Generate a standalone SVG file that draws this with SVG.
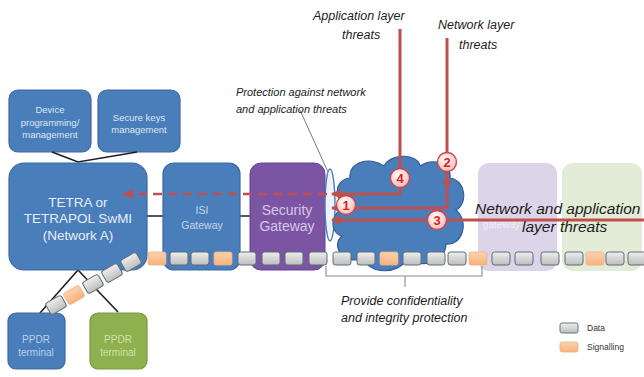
<svg xmlns="http://www.w3.org/2000/svg" width="644" height="377" viewBox="0 0 644 377">
  <defs>
    <linearGradient id="gData" x1="0" y1="0" x2="0" y2="1">
      <stop offset="0" stop-color="#eeeeee"/>
      <stop offset="1" stop-color="#bdbdbd"/>
    </linearGradient>
    <linearGradient id="gSig" x1="0" y1="0" x2="0" y2="1">
      <stop offset="0" stop-color="#fcd2ae"/>
      <stop offset="1" stop-color="#f6b27a"/>
    </linearGradient>
    <radialGradient id="gBadge" cx="0.4" cy="0.35" r="0.7">
      <stop offset="0" stop-color="#ffffff"/>
      <stop offset="1" stop-color="#f4b8b8"/>
    </radialGradient>
    <marker id="arrRed" viewBox="0 0 10 10" refX="9" refY="5" markerWidth="3.2" markerHeight="3.2" orient="auto">
      <path d="M0,0 L10,5 L0,10 Z" fill="#c0504d"/>
    </marker>
    <g id="dataBox"><rect width="18" height="13" rx="2.5" fill="url(#gData)" stroke="#5f6a74" stroke-width="1"/></g>
    <g id="sigBox"><rect width="18" height="13" rx="2" fill="url(#gSig)" stroke="#f0b184" stroke-width="0.8"/></g>
  </defs>
  <style>
    .blue { fill: #4a7ebb; stroke: #3b6aa3; stroke-width: 1.2; }
    .lbl { font-family: "Liberation Sans", Arial, sans-serif; text-anchor: middle; }
    .note { font-family: "Liberation Sans", Arial, sans-serif; font-style: italic; fill: #1c1c1c; }
    .link { stroke: #1e1e1e; stroke-width: 1.6; fill: none; }
    .threat { stroke: #c0504d; stroke-width: 3; fill: none; }
    .badge circle { fill: url(#gBadge); stroke: #d6403d; stroke-width: 1.3; }
    .badge text { font-family: "Liberation Sans", Arial, sans-serif; font-weight: bold; font-size: 13px; fill: #e0201c; text-anchor: middle; }
  </style>

  <rect width="644" height="377" fill="#ffffff"/>

  <!-- faint right-hand boxes -->
  <g id="remote-security-gateway">
    <rect x="478" y="163" width="79" height="108" rx="11" fill="#dcd5ea"/>
    <text class="lbl" x="520" y="228" font-size="10" fill="#f2eef8" text-anchor="end" style="text-anchor:end">gateway</text>
  </g>
  <g id="remote-network">
    <rect x="562" y="163" width="80" height="108" rx="11" fill="#e3ecd6"/>
  </g>

  <!-- management boxes -->
  <g id="device-mgmt">
    <rect class="blue" x="9" y="90" width="82" height="62" rx="9"/>
    <text class="lbl" font-size="9.5" fill="#dce6f2"><tspan x="50" y="113">Device</tspan><tspan x="50" y="126">programming/</tspan><tspan x="50" y="138">management</tspan></text>
  </g>
  <g id="keys-mgmt">
    <rect class="blue" x="98" y="90" width="82" height="62" rx="9"/>
    <text class="lbl" font-size="9.5" fill="#dce6f2"><tspan x="139" y="121">Secure keys</tspan><tspan x="139" y="133">management</tspan></text>
  </g>

  <!-- connectors -->
  <g id="connectors">
    <path class="link" d="M52,152 L78,162 L137,152"/>
    <path class="link" d="M147,216 H163 M240,216 H250"/>
    <path class="link" d="M78,270 L40,313 M78,270 L118,312"/>
    <line x1="300" y1="110" x2="328" y2="172" stroke="#7a7a7a" stroke-width="1"/>
    <path d="M326,266 V276 H482 V266 M405,276 V287" stroke="#8a8a8a" stroke-width="1.1" fill="none"/>
  </g>

  <!-- SwMI -->
  <g id="swmi">
    <rect class="blue" x="9" y="163" width="138" height="107" rx="15"/>
    <text class="lbl" font-size="13.5" fill="#e6edf6"><tspan x="78" y="207">TETRA or</tspan><tspan x="78" y="223">TETRAPOL SwMI</tspan><tspan x="78" y="240">(Network A)</tspan></text>
  </g>

  <g id="isi-gateway">
    <rect class="blue" x="163" y="163" width="77" height="107" rx="11"/>
    <text class="lbl" font-size="10.5" fill="#c6d6ea"><tspan x="202" y="214">ISI</tspan><tspan x="202" y="229">Gateway</tspan></text>
  </g>

  <g id="security-gateway">
    <rect x="250" y="163" width="75" height="107" rx="11" fill="#7b55a3" stroke="#664290" stroke-width="1"/>
    <text class="lbl" font-size="14" fill="#d4c8e4"><tspan x="287" y="215">Security</tspan><tspan x="287" y="231">Gateway</tspan></text>
  </g>

  <!-- protection lens -->
  <g id="protection">
    <ellipse cx="330" cy="205" rx="5" ry="36" fill="#eef2f9" stroke="#4a7ebb" stroke-width="1.4"/>
  </g>

  <!-- network cloud -->
  <g id="cloud">
    <path fill="#4a7ebb" stroke="#2f5f9a" stroke-width="1.2" d="M350,205 C334,204 332,180 350,178 C348,162 370,156 384,166 C392,152 418,154 420,166 C432,158 452,162 450,178 C466,180 468,204 456,210 C470,222 462,246 446,244 C446,262 420,270 408,258 C398,276 368,274 364,258 C344,266 330,246 342,236 C328,232 330,210 350,205 Z"/>
  </g>

  <!-- traffic bar -->
  <g id="traffic">
    <use href="#sigBox" x="148" y="252"/>
    <use href="#dataBox" x="170" y="252"/>
    <use href="#dataBox" x="191" y="252"/>
    <use href="#sigBox" x="214" y="252"/>
    <use href="#dataBox" x="238" y="252"/>
    <use href="#dataBox" x="262" y="252"/>
    <use href="#dataBox" x="285" y="252"/>
    <use href="#dataBox" x="309" y="252"/>
    <use href="#dataBox" x="333" y="252"/>
    <use href="#dataBox" x="357" y="252"/>
    <use href="#sigBox" x="380" y="252"/>
    <use href="#dataBox" x="403" y="252"/>
    <use href="#dataBox" x="427" y="252"/>
    <use href="#dataBox" x="448" y="252"/>
    <use href="#sigBox" x="469" y="252"/>
    <use href="#dataBox" x="492" y="252"/>
    <use href="#dataBox" x="515" y="252"/>
    <use href="#dataBox" x="541" y="252"/>
    <use href="#dataBox" x="565" y="252"/>
    <use href="#sigBox" x="586" y="252"/>
    <use href="#dataBox" x="606" y="252"/>
    <use href="#dataBox" x="628" y="252"/>
  </g>

  <!-- terminals -->
  <g id="ppdr-terminal-a">
    <rect class="blue" x="8" y="313" width="57" height="56" rx="8"/>
    <text class="lbl" font-size="10" fill="#bcd0e8"><tspan x="36" y="343">PPDR</tspan><tspan x="36" y="356">terminal</tspan></text>
  </g>
  <g id="ppdr-terminal-b">
    <rect x="90" y="313" width="57" height="56" rx="8" fill="#8fb04f" stroke="#79993c" stroke-width="1.2"/>
    <text class="lbl" font-size="10" fill="#cfe0a8"><tspan x="118" y="343">PPDR</tspan><tspan x="118" y="356">terminal</tspan></text>
  </g>

  <!-- radio traffic chain -->
  <g id="radio-traffic">
    <use href="#dataBox" transform="translate(131,262) rotate(-30) translate(-9,-6.5)"/>
    <use href="#dataBox" transform="translate(112,273) rotate(-30) translate(-9,-6.5)"/>
    <use href="#dataBox" transform="translate(93,284) rotate(-30) translate(-9,-6.5)"/>
    <use href="#sigBox" transform="translate(74,295) rotate(-30) translate(-9,-6.5)"/>
    <use href="#dataBox" transform="translate(56,305) rotate(-30) translate(-9,-6.5)"/>
  </g>

  <!-- threat paths -->
  <g id="threats">
    <line x1="123" y1="194" x2="330" y2="194" stroke="#c0504d" stroke-width="2.6" stroke-dasharray="9 6"/>
    <path d="M133,189 L123,194 L133,199 Z" fill="#c0504d"/>
    <path class="threat" d="M400,29 V194 H332" marker-end="url(#arrRed)"/>
    <path class="threat" d="M447,38 V208 H332" marker-end="url(#arrRed)"/>
    <path d="M442,180 L447,189 L452,180 Z" fill="#c0504d"/>
    <path class="threat" d="M644,220 H332" marker-end="url(#arrRed)"/>
  </g>

  <!-- numbered badges -->
  <g id="badge-4" class="badge"><circle cx="400" cy="178" r="9.5"/><text x="400" y="183">4</text></g>
  <g id="badge-2" class="badge"><circle cx="447" cy="162" r="9.5"/><text x="447" y="167">2</text></g>
  <g id="badge-1" class="badge"><circle cx="346" cy="205" r="9.5"/><text x="346" y="210">1</text></g>
  <g id="badge-3" class="badge"><circle cx="437" cy="220" r="9.5"/><text x="437" y="225">3</text></g>

  <!-- annotations -->
  <g id="label-app-threats">
    <text class="note" font-size="12.5"><tspan x="313" y="20">Application layer</tspan><tspan x="342" y="39">threats</tspan></text>
  </g>
  <g id="label-net-threats">
    <text class="note" font-size="12.5"><tspan x="438" y="29">Network layer</tspan><tspan x="459" y="49">threats</tspan></text>
  </g>
  <g id="label-protection">
    <text class="note" font-size="11"><tspan x="236" y="96">Protection against network</tspan><tspan x="236" y="113">and application threats</tspan></text>
  </g>
  <g id="label-combined-threats">
    <text class="note" font-size="15.5"><tspan x="475" y="214">Network and application</tspan><tspan x="522" y="232">layer threats</tspan></text>
  </g>
  <g id="label-confidentiality">
    <text class="note" font-size="12.5"><tspan x="341" y="305">Provide confidentiality</tspan><tspan x="341" y="322">and integrity protection</tspan></text>
  </g>

  <!-- legend -->
  <g id="legend">
    <rect x="560" y="323" width="18" height="10" rx="2" fill="url(#gData)" stroke="#5f6a74" stroke-width="0.9"/>
    <text x="587" y="331" font-family="Liberation Sans, Arial, sans-serif" font-size="8.5" fill="#333">Data</text>
    <rect x="560" y="342" width="18" height="10" rx="2" fill="url(#gSig)" stroke="#f0b184" stroke-width="0.8"/>
    <text x="587" y="350" font-family="Liberation Sans, Arial, sans-serif" font-size="8.5" fill="#333">Signalling</text>
  </g>
</svg>
